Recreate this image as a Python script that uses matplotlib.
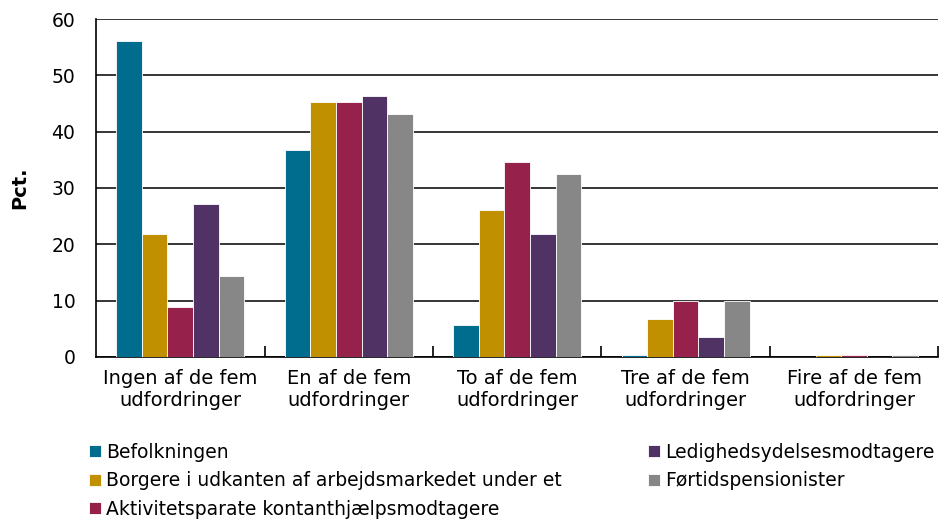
import matplotlib
matplotlib.use("Agg")
import matplotlib.pyplot as plt
import numpy as np

categories = ["Ingen af de fem\nudfordringer", "En af de fem\nudfordringer", "To af de fem\nudfordringer",
              "Tre af de fem\nudfordringer", "Fire af de fem\nudfordringer"]
series_names = ["Befolkningen", "Borgere i udkanten af arbejdsmarkedet under et",
                "Aktivitetsparate kontanthjælpsmodtagere", "Ledighedsydelsesmodtagere", "Førtidspensionister"]
befolkningen = [56.1, 36.8, 5.7, 0.3, 0.0]
borgere = [21.8, 45.3, 26.1, 6.8, 0.3]
aktivitetsparate = [8.9, 45.3, 34.6, 10.0, 0.3]
ledighed = [27.2, 46.4, 21.8, 3.6, 0.0]
fortid = [14.4, 43.2, 32.4, 10.0, 0.3]
yticks = [0, 10, 20, 30, 40, 50, 60]

colors = ["#006d8f", "#c09000", "#96224c", "#503264", "#878787"]
series = [befolkningen, borgere, aktivitetsparate, ledighed, fortid]

plt.rcParams['font.family'] = ['DejaVu Sans']

fig = plt.figure(figsize=(9.42, 5.21), dpi=100)
ax = fig.add_axes([0.102, 0.315, 0.894, 0.6485])

x = np.arange(len(categories))
w = 0.152
for i, (vals, c, n) in enumerate(zip(series, colors, series_names)):
    ax.bar(x + (i - 2) * w, vals, width=w, color=c, label=n, edgecolor="white", linewidth=0.6, zorder=3)

ax.set_xlim(-0.5, len(categories) - 0.5)
ax.set_ylim(0, 60)
ax.set_yticks(yticks)
ax.set_yticklabels([str(t) for t in yticks], fontsize=13.5)
ax.yaxis.grid(True, color="black", linewidth=1.1, zorder=0)
ax.tick_params(axis="y", length=0, pad=15)
ax.set_xticks(x)
ax.set_xticklabels(categories, fontsize=14, linespacing=1.2)
ax.tick_params(axis="x", which="major", length=0, pad=9)
ax.set_xticks(np.arange(0.5, len(categories), 1.0), minor=True)
ax.tick_params(axis="x", which="minor", direction="in", length=8, width=1.2, color="black")
for s in ["top", "right"]:
    ax.spines[s].set_visible(False)
for s in ["left", "bottom"]:
    ax.spines[s].set_color("black")
    ax.spines[s].set_linewidth(1.2)
ax.set_ylabel("Pct.", fontsize=14, fontweight="bold", labelpad=16)

handles, labels = ax.get_legend_handles_labels()
fig.legend(handles, labels, loc="upper left", bbox_to_anchor=(0.095, 0.15), ncol=2,
           frameon=False, fontsize=13.5, handlelength=0.6, handleheight=0.6, handletextpad=0.3,
           labelspacing=0.5, columnspacing=4.6, borderaxespad=0, borderpad=0)

fig.savefig("out.png", dpi=100)
